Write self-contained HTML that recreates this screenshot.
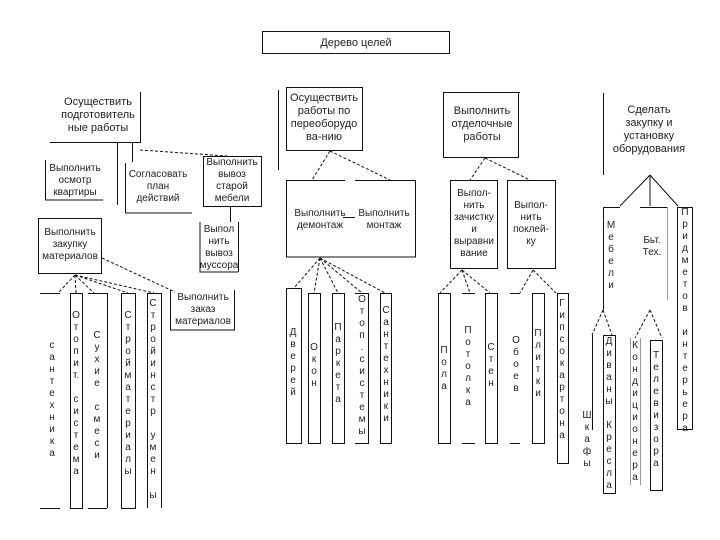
<!DOCTYPE html>
<html><head><meta charset="utf-8">
<style>
html,body{margin:0;padding:0;background:#fff;}
#w{position:relative;width:720px;height:540px;overflow:hidden;background:#fff;}
svg{position:absolute;left:0;top:0;}
.t{position:absolute;font:10px "Liberation Sans",sans-serif;color:#222;text-align:center;line-height:12px;transform:translateX(-50%);white-space:nowrap;}
.b{font-size:11px;line-height:13px;}
.v{line-height:12px;font-size:10px;}
</style></head><body><div id="w">
<svg width="720" height="540" stroke="#111" fill="none" stroke-width="1">
<!-- title -->
<rect x="262.5" y="31.5" width="187" height="22"/>
<!-- col1 -->
<path d="M50 142.5H140.5V92"/>
<path d="M117.5 142V205M132.5 142V162"/>
<path d="M45.5 160V200M45 200H103"/>
<path d="M125.5 163V213H192"/>
<rect x="203.5" y="156.5" width="58" height="50"/>
<path d="M140 150L227 156" stroke-dasharray="3,2"/>
<path d="M230.5 207V222"/>
<path d="M200 222V272H238M238.5 222V272"/>
<rect x="38.5" y="218.5" width="63" height="55"/>
<path d="M102 258L175 292" stroke-dasharray="3,2"/>
<path d="M170.5 290V330H234.5V290"/>
<path d="M75 275L58 293M75 275L76 293M75 275L94 293M75 275L128 293M75 275L154 293" stroke-dasharray="3,2"/>
<path d="M40 293.5H60M40 508.5H60"/>
<rect x="70.5" y="293.5" width="12" height="215"/>
<path d="M88 293.5H107.5V508M88 508.5H107"/>
<rect x="121.5" y="293.5" width="14" height="215"/>
<path d="M147.5 293.5V508M147 293.5H161.5V508"/>
<!-- col2 -->
<path d="M278.5 90V170"/>
<rect x="286.5" y="87.5" width="76" height="63"/>
<path d="M330 151L312 180M330 151L390 180" stroke-dasharray="3,2"/>
<path d="M286 180.5H345M355 180.5H415.5V257H286.5V180"/>
<path d="M343 217.5H355"/>
<path d="M320 258L294 288M320 258L314 293M320 258L338 293M320 258L362 293M320 258L385 293" stroke-dasharray="3,2"/>
<rect x="286.5" y="288.5" width="15" height="155"/>
<rect x="308.5" y="293.5" width="12" height="150"/>
<rect x="332.5" y="293.5" width="12" height="150"/>
<path d="M355 293.5H368.5V443.5H355"/>
<rect x="380.5" y="293.5" width="11" height="150"/>
<!-- col3 -->
<path d="M443.5 92.5H520M443.5 92V157.5H518.5V92"/>
<path d="M485 158L470 180M485 158L530 180" stroke-dasharray="3,2"/>
<rect x="450.5" y="180.5" width="47" height="88"/>
<rect x="507.5" y="180.5" width="48" height="88"/>
<path d="M462 270L440 293M462 270L470 293M462 270L490 293M533 270L520 293M533 270L556 293" stroke-dasharray="3,2"/>
<rect x="438.5" y="293.5" width="12" height="150"/>
<path d="M462 293.5H475M462 443.5H475"/>
<rect x="485.5" y="293.5" width="12" height="150"/>
<path d="M510 293.5H520M510 443.5H520"/>
<rect x="532.5" y="293.5" width="12" height="150"/>
<rect x="557.5" y="293.5" width="11" height="170"/>
<!-- col4 -->
<path d="M603.5 93V175"/>
<path d="M650 175L620 206M650 175V206M650 175L678 206"/>
<path d="M603 207.5H620M640 207.5H668"/>
<path d="M603.5 207V310"/>
<path d="M667.5 207V300" stroke="#999"/>
<rect x="677.5" y="207.5" width="15" height="222"/>
<path d="M603 310L592 335M603 310L612 335" stroke-dasharray="3,2"/>
<path d="M592.5 335V430"/>
<rect x="603.5" y="335.5" width="12" height="158"/>
<path d="M650 310L635 338M650 310L662 338" stroke-dasharray="3,2"/>
<path d="M630.5 338V485M640.5 338V485" stroke="#999"/>
<rect x="650.5" y="340.5" width="12" height="150"/>
</svg>

<div class="t b" style="left:356px;top:37px">Дерево целей</div>
<div class="t b" style="left:98px;top:96px">Осуществить<br>подготовитель<br>ные работы</div>
<div class="t" style="left:75px;top:163px">Выполнить<br>осмотр<br>квартиры</div>
<div class="t" style="left:158px;top:169px">Согласовать<br>план<br>действий</div>
<div class="t" style="left:232px;top:157px">Выполнить<br>вывоз<br>старой<br>мебели</div>
<div class="t" style="left:219px;top:224px">Выпол<br>нить<br>вывоз<br>муссора</div>
<div class="t" style="left:70px;top:227px">Выполнить<br>закупку<br>материалов</div>
<div class="t" style="left:203px;top:292px">Выполнить<br>заказ<br>материалов</div>

<div class="t v" style="left:52px;top:340px">с<br>а<br>н<br>т<br>е<br>х<br>н<br>и<br>к<br>а</div>
<div class="t v" style="left:76px;top:310px">О<br>т<br>о<br>п<br>и<br>т.<br><br>с<br>и<br>с<br>т<br>е<br>м<br>а</div>
<div class="t v" style="left:97px;top:330px">С<br>у<br>х<br>и<br>е<br><br>с<br>м<br>е<br>с<br>и</div>
<div class="t v" style="left:128px;top:310px">С<br>т<br>р<br>о<br>й<br>м<br>а<br>т<br>е<br>р<br>и<br>а<br>л<br>ы</div>
<div class="t v" style="left:153px;top:298px">С<br>т<br>р<br>о<br>й<br>и<br>н<br>с<br>т<br>р<br><br>у<br>м<br>е<br>н<br><br>ы</div>

<div class="t b" style="left:324px;top:92px">Осуществить<br>работы по<br>переоборудо<br>ва-нию</div>
<div class="t" style="left:320px;top:208px">Выполнить<br>демонтаж</div>
<div class="t" style="left:384px;top:208px">Выполнить<br>монтаж</div>
<div class="t v" style="left:293px;top:327px">Д<br>в<br>е<br>р<br>е<br>й</div>
<div class="t v" style="left:314px;top:342px">О<br>к<br>о<br>н</div>
<div class="t v" style="left:338px;top:322px">П<br>а<br>р<br>к<br>е<br>т<br>а</div>
<div class="t v" style="left:362px;top:294px">О<br>т<br>о<br>п<br>.<br>с<br>и<br>с<br>т<br>е<br>м<br>ы</div>
<div class="t v" style="left:386px;top:305px">С<br>а<br>н<br>т<br>е<br>х<br>н<br>и<br>к<br>и</div>

<div class="t b" style="left:482px;top:105px">Выполнить<br>отделочные<br>работы</div>
<div class="t" style="left:474px;top:188px">Выпол-<br>нить<br>зачистку<br>и<br>выравни<br>вание</div>
<div class="t" style="left:531px;top:200px">Выпол-<br>нить<br>поклей-<br>ку</div>
<div class="t v" style="left:444px;top:345px">П<br>о<br>л<br>а</div>
<div class="t v" style="left:468px;top:325px">П<br>о<br>т<br>о<br>л<br>к<br>а</div>
<div class="t v" style="left:491px;top:342px">С<br>т<br>е<br>н</div>
<div class="t v" style="left:516px;top:335px">О<br>б<br>о<br>е<br>в</div>
<div class="t v" style="left:538px;top:328px">П<br>л<br>и<br>т<br>к<br>и</div>
<div class="t v" style="left:562px;top:298px">Г<br>и<br>п<br>с<br>о<br>к<br>а<br>р<br>т<br>о<br>н<br>а</div>

<div class="t b" style="left:649px;top:104px">Сделать<br>закупку и<br>установку<br>оборудования</div>
<div class="t v" style="left:611px;top:220px">М<br>е<br>б<br>е<br>л<br>и</div>
<div class="t" style="left:652px;top:235px">Бьт.<br>Тех.</div>
<div class="t v" style="left:685px;top:207px">П<br>р<br>и<br>д<br>м<br>е<br>т<br>о<br>в<br><br>и<br>н<br>т<br>е<br>р<br>ь<br>е<br>р<br>а</div>
<div class="t v" style="left:587px;top:410px">Ш<br>к<br>а<br>ф<br>ы</div>
<div class="t v" style="left:609px;top:336px">Д<br>и<br>в<br>а<br>н<br>ы<br><br>К<br>р<br>е<br>с<br>л<br>а</div>
<div class="t v" style="left:635px;top:340px">К<br>о<br>н<br>д<br>и<br>ц<br>и<br>о<br>н<br>е<br>р<br>а</div>
<div class="t v" style="left:656px;top:350px">Т<br>е<br>л<br>е<br>в<br>и<br>з<br>о<br>р<br>а</div>
</div></body></html>
